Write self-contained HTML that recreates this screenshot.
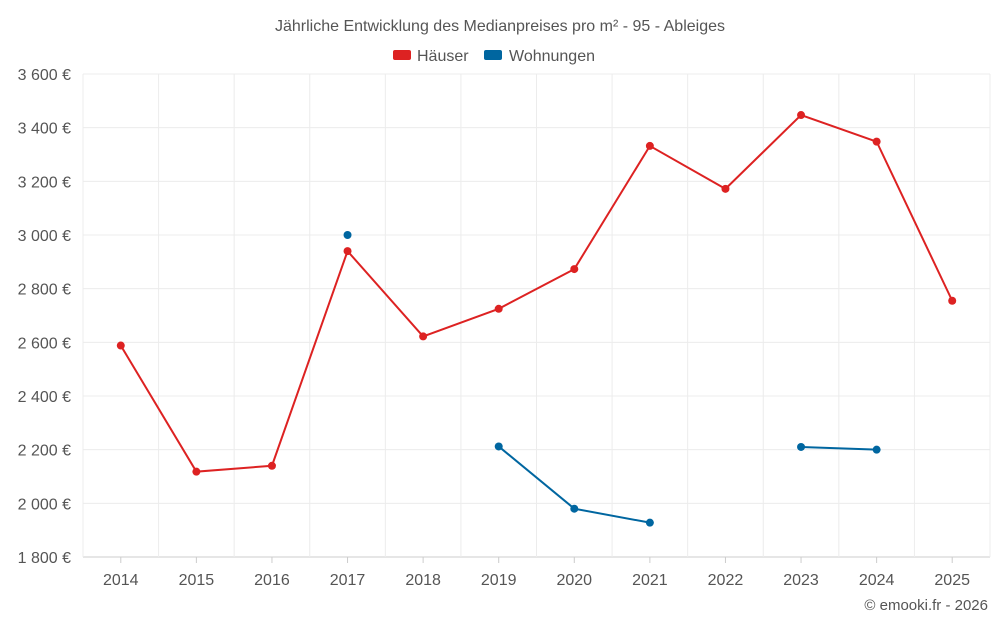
<!DOCTYPE html>
<html><head><meta charset="utf-8"><style>
body{margin:0;background:#fff;width:1000px;height:625px;overflow:hidden;font-family:"Liberation Sans",sans-serif}
svg text{font-family:"Liberation Sans",sans-serif;fill:#555}
</style></head><body>
<svg id="chart" width="1000" height="625">
<text x="500" y="31" text-anchor="middle" font-size="16">Jährliche Entwicklung des Medianpreises pro m² - 95 - Ableiges</text>
<g>
<g><rect x="393" y="50" width="18" height="10" rx="2" fill="#dd2222"/><text x="417" y="61" font-size="16">Häuser</text></g>
<g><rect x="484" y="50" width="18" height="10" rx="2" fill="#0066a0"/><text x="509" y="61" font-size="16">Wohnungen</text></g>
</g>
<g id="grid"></g><g id="axes"></g><g id="series"></g>
<text x="988" y="610" text-anchor="end" font-size="15">© emooki.fr - 2026</text>
</svg>
<script>
const categories=[2014,2015,2016,2017,2018,2019,2020,2021,2022,2023,2024,2025];
const haeuser=[2588,2118,2140,2940,2622,2725,2873,3332,3172,3447,3348,2755];
const wohnungen=[null,null,null,3000,null,2212,1980,1928,null,2210,2200,null];
const yTicks=[1800,2000,2200,2400,2600,2800,3000,3200,3400,3600];
const yLabels=["1 800 €","2 000 €","2 200 €","2 400 €","2 600 €","2 800 €","3 000 €","3 200 €","3 400 €","3 600 €"];
const L=83,R=990,T=74,B=557,yMin=1800,yMax=3600;
const bw=(R-L)/categories.length;
const xS=i=>L+bw*(i+0.5);
const yS=v=>B-(v-yMin)/(yMax-yMin)*(B-T);
const NS="http://www.w3.org/2000/svg";
function mk(tag,attrs,parent){const e=document.createElementNS(NS,tag);for(const k in attrs)e.setAttribute(k,attrs[k]);document.getElementById(parent).appendChild(e);return e;}
yTicks.forEach((t,i)=>{
 const g=mk('line',{x1:L,x2:R,y1:yS(t),y2:yS(t),stroke:i==0?'#ccc':'#ececec','stroke-width':1},'grid');
 
 
 const tx=mk('text',{x:71,y:yS(t)+6,'text-anchor':'end','font-size':16},'axes');tx.textContent=yLabels[i];
 
 
});
for(let i=0;i<=categories.length;i++){
 const g=mk('line',{x1:L+bw*i,x2:L+bw*i,y1:T,y2:B,stroke:'#ececec'},'grid');
 
 
}
categories.forEach((c,i)=>{
 const tk=mk('line',{x1:xS(i),x2:xS(i),y1:B,y2:B+6,stroke:'#ccc'},'axes');
 
 
 const tx=mk('text',{x:xS(i),y:585,'text-anchor':'middle','font-size':16},'axes');tx.textContent=c;
 
 
});
function draw(vals,color,name){
 let seg=[];const segs=[];
 vals.forEach((v,i)=>{if(v==null){if(seg.length)segs.push(seg);seg=[];}else seg.push([xS(i),yS(v)]);});
 if(seg.length)segs.push(seg);
 segs.forEach(s=>{if(s.length>1){const p=mk('polyline',{points:s.map(q=>q.join(',')).join(' '),fill:'none',stroke:color,'stroke-width':2},'series');
  
  }});
 vals.forEach((v,i)=>{if(v==null)return;const c=mk('circle',{cx:xS(i),cy:yS(v),r:4,fill:color},'series');
  
  });
}
draw(haeuser,'#dd2222','haeuser');
draw(wohnungen,'#0066a0','wohnungen');
</script>
</body></html>
